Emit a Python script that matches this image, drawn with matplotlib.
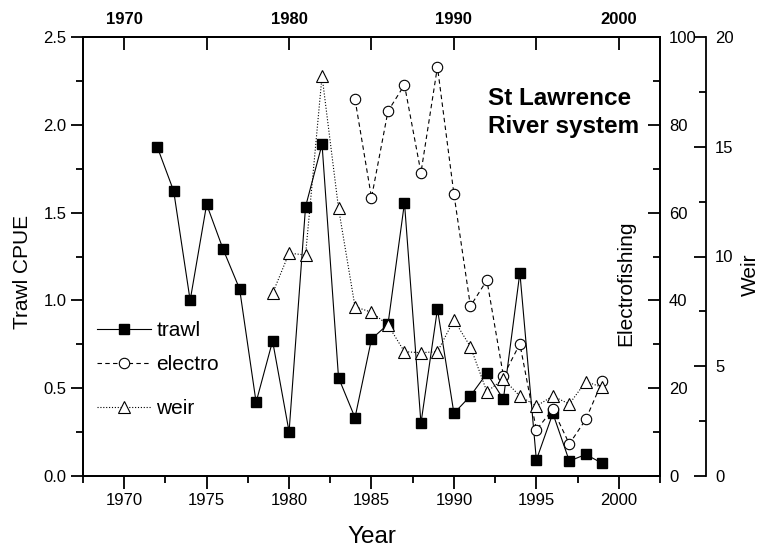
import matplotlib
matplotlib.use("Agg")
import matplotlib.pyplot as plt
from matplotlib.ticker import MultipleLocator, FixedLocator, FormatStrFormatter

plt.rcParams['font.family'] = ['Liberation Sans', 'DejaVu Sans']

# Trawl CPUE (left axis)
trawl_years = [1972, 1973, 1974, 1975, 1976, 1977, 1978, 1979, 1980, 1981,
               1982, 1983, 1984, 1985, 1986, 1987, 1988, 1989, 1990, 1991,
               1992, 1993, 1994, 1995, 1996, 1997, 1998, 1999]
trawl_cpue = [1.875, 1.623, 1.00, 1.547, 1.291, 1.065, 0.42, 0.769, 0.252, 1.534,
              1.889, 0.56, 0.332, 0.78, 0.864, 1.556, 0.30, 0.951, 0.357, 0.456,
              0.585, 0.437, 1.158, 0.091, 0.357, 0.085, 0.123, 0.072]

# Electrofishing (first right axis)
electro_years = [1984, 1985, 1986, 1987, 1988, 1989, 1990, 1991, 1992, 1993,
                 1994, 1995, 1996, 1997, 1998, 1999]
electro_vals = [85.8, 63.4, 83.1, 89.1, 69.1, 93.2, 64.2, 38.7, 44.6, 22.8,
                30.1, 10.5, 15.2, 7.3, 12.9, 21.6]

# Weir counts (second right axis)
weir_years = [1979, 1980, 1981, 1982, 1983, 1984, 1985, 1986, 1987, 1988,
              1989, 1990, 1991, 1992, 1993, 1994, 1995, 1996, 1997, 1998, 1999]
weir_vals = [8.32, 10.15, 10.07, 18.22, 12.2, 7.71, 7.46, 6.88, 5.66, 5.62,
             5.66, 7.11, 5.89, 3.84, 4.42, 3.64, 3.19, 3.64, 3.28, 4.30, 4.04]

top_years = [1970, 1980, 1990, 2000]
top_minor_years = [1975, 1985, 1995]

W, H = 763, 552
fig = plt.figure(figsize=(W / 100, H / 100), dpi=100)
L, R, T, B = 83, 660, 37, 476
ax = fig.add_axes([L / W, (H - B) / H, (R - L) / W, (B - T) / H])
ax2 = ax.twinx()
ax3 = ax.twinx()

SPW = 1.3
LW = 0.8
TICK_FS = 12

# ---- main axis (trawl) ----
ax.plot(trawl_years, trawl_cpue, color='black', lw=LW, ls='-',
        marker='s', ms=6.5, mfc='black', mec='black', label='trawl')
ax.set_xlim(1967.5, 2002.5)
ax.set_ylim(0, 2.5)
for s in ax.spines.values():
    s.set_linewidth(SPW)
ax.xaxis.set_major_locator(MultipleLocator(5))
ax.xaxis.set_minor_locator(MultipleLocator(2.5))
ax.yaxis.set_major_locator(MultipleLocator(0.5))
ax.yaxis.set_minor_locator(MultipleLocator(0.25))
ax.yaxis.set_major_formatter(FormatStrFormatter('%.1f'))
ax.tick_params(axis='both', which='major', direction='out', length=9,
               width=SPW, labelsize=TICK_FS, pad=3)
ax.tick_params(axis='both', which='minor', direction='out', length=5,
               width=SPW)
ax.tick_params(top=False, right=False, which='both')

ax.set_xlabel('Year', fontsize=17.5)
ax.xaxis.set_label_coords(0.5, -0.114)
ax.set_ylabel('Trawl CPUE', fontsize=15)
ax.yaxis.set_label_coords(-0.088, 0.465)

# top year axis
top = ax.secondary_xaxis('top')
top.xaxis.set_major_locator(FixedLocator(top_years))
top.xaxis.set_minor_locator(FixedLocator(top_minor_years))
top.tick_params(which='major', direction='in', length=9, width=SPW,
                labelsize=TICK_FS, pad=7)
top.tick_params(which='minor', direction='in', length=9, width=SPW)
for lab in top.get_xticklabels():
    lab.set_fontweight('bold')
top.spines['top'].set_linewidth(SPW)

# ---- electrofishing axis ----
ax2.plot(electro_years, electro_vals, color='black', lw=LW, ls=(0, (4, 3)),
         marker='o', ms=7.5, mfc='white', mec='black', mew=0.8,
         label='electro')
ax2.set_ylim(0, 100)
ax2.yaxis.set_major_locator(MultipleLocator(20))
ax2.yaxis.set_minor_locator(MultipleLocator(10))
ax2.tick_params(axis='y', which='major', direction='in', length=9,
                width=SPW, labelsize=TICK_FS, pad=6.5)
ax2.tick_params(axis='y', which='minor', direction='in', length=5,
                width=SPW)
for s in ax2.spines.values():
    s.set_linewidth(SPW)
ax2.set_ylabel('Electrofishing', fontsize=15)
ax2.yaxis.set_label_coords(0.925, 0.44)

# ---- weir axis ----
ax3.plot(weir_years, weir_vals, color='black', lw=LW, ls=(0, (1, 1.6)),
         marker='^', ms=8.5, mfc='white', mec='black', mew=0.8,
         label='weir')
ax3.set_ylim(0, 20)
ax3.spines['right'].set_position(('axes', 1.0797))
ax3.spines['right'].set_linewidth(SPW)
for k in ('left', 'top', 'bottom'):
    ax3.spines[k].set_visible(False)
ax3.yaxis.set_major_locator(MultipleLocator(5))
ax3.yaxis.set_minor_locator(MultipleLocator(2.5))
ax3.tick_params(axis='y', which='major', direction='in', length=9,
                width=SPW, labelsize=TICK_FS, pad=6.5)
ax3.tick_params(axis='y', which='minor', direction='in', length=5,
                width=SPW)
ax3.set_ylabel('Weir', fontsize=15)
ax3.yaxis.set_label_coords(1.140, 0.458)

ax.text(0.702, 0.886, 'St Lawrence\nRiver system', transform=ax.transAxes,
        fontsize=17.5, fontweight='bold', ha='left', va='top', linespacing=1.3)

# legend entries, one row each
handles = [ax.get_lines()[0], ax2.get_lines()[0], ax3.get_lines()[0]]
row_y = [331, 365, 409]
legs = []
for h, yp in zip(handles, row_y):
    leg = ax3.legend([h], [h.get_label()], loc='center left',
                     bbox_to_anchor=(0.024, (B - yp) / (B - T)),
                     frameon=False, fontsize=15, handlelength=2.6,
                     handletextpad=0.25, borderpad=0, borderaxespad=0,
                     numpoints=1)
    legs.append(leg)
for leg in legs[:-1]:
    ax3.add_artist(leg)

fig.savefig('out.png', dpi=100)
